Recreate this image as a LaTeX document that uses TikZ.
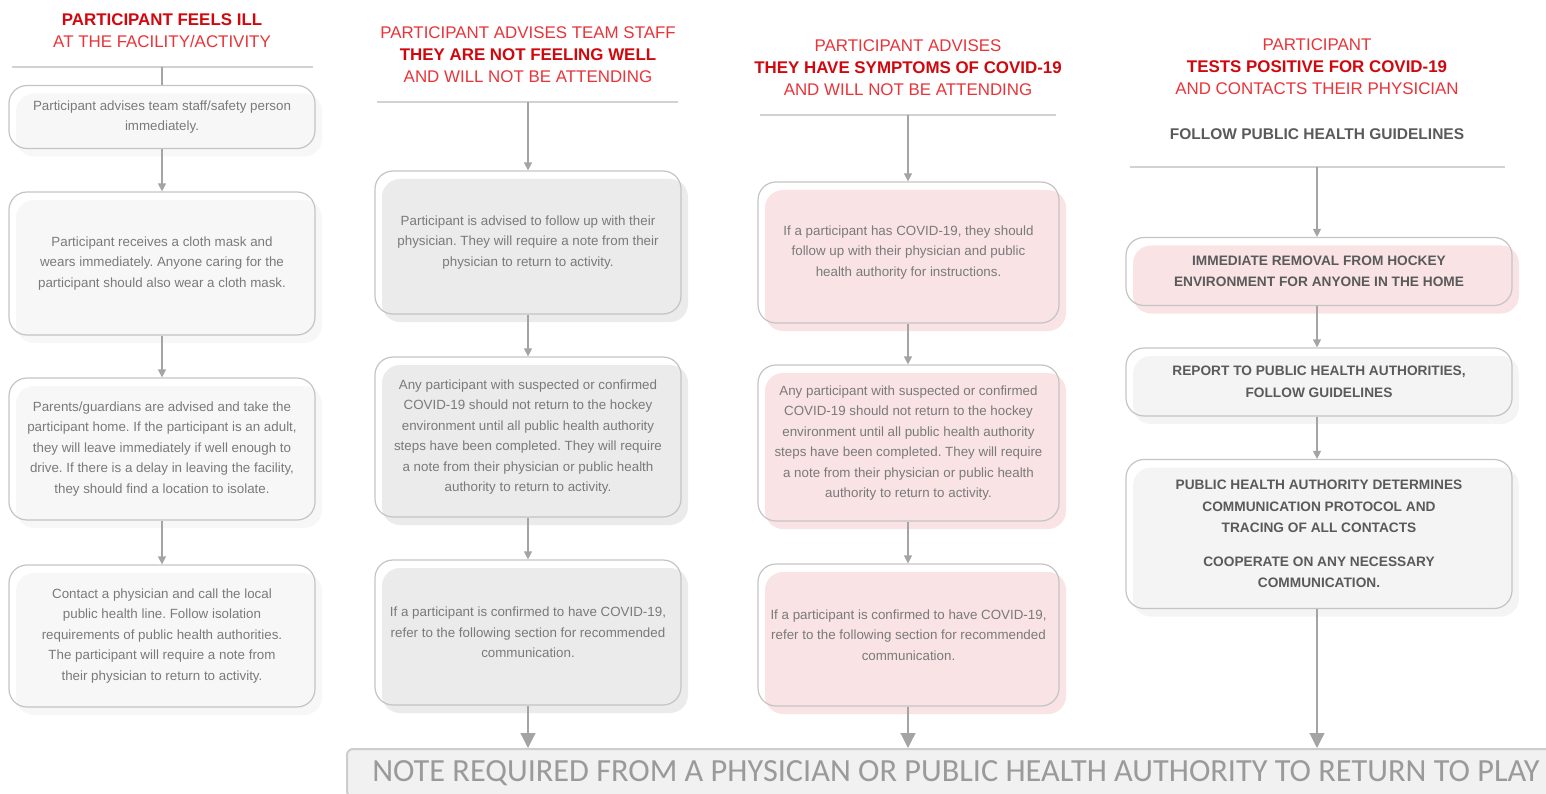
\documentclass[tikz,border=0pt]{standalone}
\usepackage{fontspec}
\setmainfont{Liberation Sans}
\newfontfamily\notefont{Carlito}
\usetikzlibrary{arrows.meta, shadows}
\usepackage{xcolor}
\frenchspacing

\definecolor{titlered}{HTML}{E8343A}
\definecolor{boldred}{HTML}{D0080E}
\definecolor{boxtext}{HTML}{7A7A7A}
\definecolor{boxline}{HTML}{C4C4C4}
\definecolor{linkgray}{HTML}{A4A4A4}
\definecolor{rulegray}{HTML}{D2D2D2}
\definecolor{fillone}{HTML}{F7F7F7}
\definecolor{filltwo}{HTML}{EBEBEB}
\definecolor{fillpink}{HTML}{F9E3E4}
\definecolor{fillfour}{HTML}{F4F4F4}
\definecolor{capsgray}{HTML}{5A5A5A}
\definecolor{notefill}{HTML}{F1F1F1}
\definecolor{noteline}{HTML}{CDCDCD}
\definecolor{notetext}{HTML}{9A9A9A}

\begin{document}
\begin{tikzpicture}[
    x=1pt, y=-1pt,
    title/.style = {align=center, text=titlered, font=\fontsize{16.9}{22}\selectfont, inner sep=0pt},
    box/.style = {rectangle, draw=boxline, line width=1.2pt, rounded corners=18pt, align=center, text=boxtext, font=\fontsize{13.35}{20.5}\selectfont, minimum width=306pt, inner sep=0pt},
    shade/.style = {general shadow={fill=#1, shadow xshift=7pt, shadow yshift=-8pt}},
    capsbox/.style = {box, text=capsgray, font=\bfseries\fontsize{13.7}{21.5}\selectfont, minimum width=386pt},
    rule/.style = {draw=rulegray, line width=2pt},
    link/.style = {draw=linkgray, line width=1.2pt, -{Triangle[width=8pt,length=8pt]}},
    biglink/.style = {draw=linkgray, line width=1.2pt, -{Triangle[width=15pt,length=15pt]}}
]
\clip (0,0) rectangle (1546,794);

% Column 1: feels ill at the facility
\node (t1) [title] at (162,31) {\textbf{\textcolor{boldred}{PARTICIPANT FEELS ILL}}\\AT THE FACILITY/ACTIVITY};
\draw [rule] (12,67) -- (313,67);
\coordinate (h1) at (162,67);
\node (c1b1) [box, shade=fillone, minimum height=63pt] at (162,117) {Participant advises team staff/safety person\\immediately.};
\node (c1b2) [box, shade=fillone, minimum height=143pt] at (162,263.5) {Participant receives a cloth mask and\\wears immediately. Anyone caring for the\\participant should also wear a cloth mask.};
\node (c1b3) [box, shade=fillone, minimum height=142pt] at (162,449) {Parents/guardians are advised and take the\\participant home. If the participant is an adult,\\they will leave immediately if well enough to\\drive. If there is a delay in leaving the facility,\\they should find a location to isolate.};
\node (c1b4) [box, shade=fillone, minimum height=142pt] at (162,636) {Contact a physician and call the local\\public health line. Follow isolation\\requirements of public health authorities.\\The participant will require a note from\\their physician to return to activity.};

% Column 2: not feeling well, not attending
\node (t2) [title] at (528,55) {PARTICIPANT ADVISES TEAM STAFF\\\textbf{\textcolor{boldred}{THEY ARE NOT FEELING WELL}}\\AND WILL NOT BE ATTENDING};
\draw [rule] (377,102) -- (678,102);
\coordinate (h2) at (528,102);
\node (c2b1) [box, shade=filltwo, minimum height=143pt] at (528,242.5) {Participant is advised to follow up with their\\physician. They will require a note from their\\physician to return to activity.};
\node (c2b2) [box, shade=filltwo, minimum height=160pt] at (528,437) {Any participant with suspected or confirmed\\COVID-19 should not return to the hockey\\environment until all public health authority\\steps have been completed. They will require\\a note from their physician or public health\\authority to return to activity.};
\node (c2b3) [box, shade=filltwo, minimum height=145pt] at (528,632.5) {If a participant is confirmed to have COVID-19,\\refer to the following section for recommended\\communication.};

% Column 3: symptoms of COVID-19
\node (t3) [title] at (908,68) {PARTICIPANT ADVISES\\\textbf{\textcolor{boldred}{THEY HAVE SYMPTOMS OF COVID-19}}\\AND WILL NOT BE ATTENDING};
\draw [rule] (760,115) -- (1056,115);
\coordinate (h3) at (908,115);
\node (c3b1) [box, shade=fillpink, minimum width=301pt, minimum height=141pt] at (908.5,252.5) {If a participant has COVID-19, they should\\follow up with their physician and public\\health authority for instructions.};
\node (c3b2) [box, shade=fillpink, minimum width=301pt, minimum height=156pt] at (908.5,443) {Any participant with suspected or confirmed\\COVID-19 should not return to the hockey\\environment until all public health authority\\steps have been completed. They will require\\a note from their physician or public health\\authority to return to activity.};
\node (c3b3) [box, shade=fillpink, minimum width=301pt, minimum height=142pt] at (908.5,635) {If a participant is confirmed to have COVID-19,\\refer to the following section for recommended\\communication.};

% Column 4: tests positive
\node (t4) [title] at (1317,67) {PARTICIPANT\\\textbf{\textcolor{boldred}{TESTS POSITIVE FOR COVID-19}}\\AND CONTACTS THEIR PHYSICIAN};
\node (g4) [text=capsgray, font=\bfseries\fontsize{15.5}{18}\selectfont, inner sep=0pt] at (1317,134) {FOLLOW PUBLIC HEALTH GUIDELINES};
\draw [rule] (1130,167) -- (1505,167);
\coordinate (h4) at (1317,167);
\node (c4b1) [capsbox, shade=fillpink, minimum height=68pt] at (1319,271.5) {IMMEDIATE REMOVAL FROM HOCKEY\\ENVIRONMENT FOR ANYONE IN THE HOME};
\node (c4b2) [capsbox, shade=fillfour, minimum height=68pt] at (1319,382) {REPORT TO PUBLIC HEALTH AUTHORITIES,\\FOLLOW GUIDELINES};
\node (c4b3) [capsbox, shade=fillfour, minimum height=149pt] at (1319,534) {PUBLIC HEALTH AUTHORITY DETERMINES\\COMMUNICATION PROTOCOL AND\\TRACING OF ALL CONTACTS\\[12pt]COOPERATE ON ANY NECESSARY\\COMMUNICATION.};

% Bottom banner
\node (note) [anchor=north west, rectangle, draw=noteline, line width=2pt, fill=notefill, rounded corners=6pt, minimum width=1218pt, minimum height=48pt, inner sep=0pt, text=notetext, font=\notefont\fontsize{32.3}{35}\selectfont] at (346,748) {NOTE REQUIRED FROM A PHYSICIAN OR PUBLIC HEALTH AUTHORITY TO RETURN TO PLAY};

% Column links
\draw [draw=linkgray, line width=1.2pt] (h1) -- (c1b1.north);
\draw [link] (c1b1) -- (c1b2);
\draw [link] (c1b2) -- (c1b3);
\draw [link] (c1b3) -- (c1b4);

\draw [link] (h2) -- (c2b1.north);
\draw [link] (c2b1) -- (c2b2);
\draw [link] (c2b2) -- (c2b3);
\draw [biglink] (c2b3.south) -- (c2b3.south |- note.north);

\draw [link] (h3) -- (c3b1.north -| h3);
\draw [link] (c3b1.south -| h3) -- (c3b2.north -| h3);
\draw [link] (c3b2.south -| h3) -- (c3b3.north -| h3);
\draw [biglink] (c3b3.south -| h3) -- (note.north -| h3);

\draw [link] (h4) -- (c4b1.north -| h4);
\draw [link] (c4b1.south -| h4) -- (c4b2.north -| h4);
\draw [link] (c4b2.south -| h4) -- (c4b3.north -| h4);
\draw [biglink] (c4b3.south -| h4) -- (note.north -| h4);

\end{tikzpicture}
\end{document}
